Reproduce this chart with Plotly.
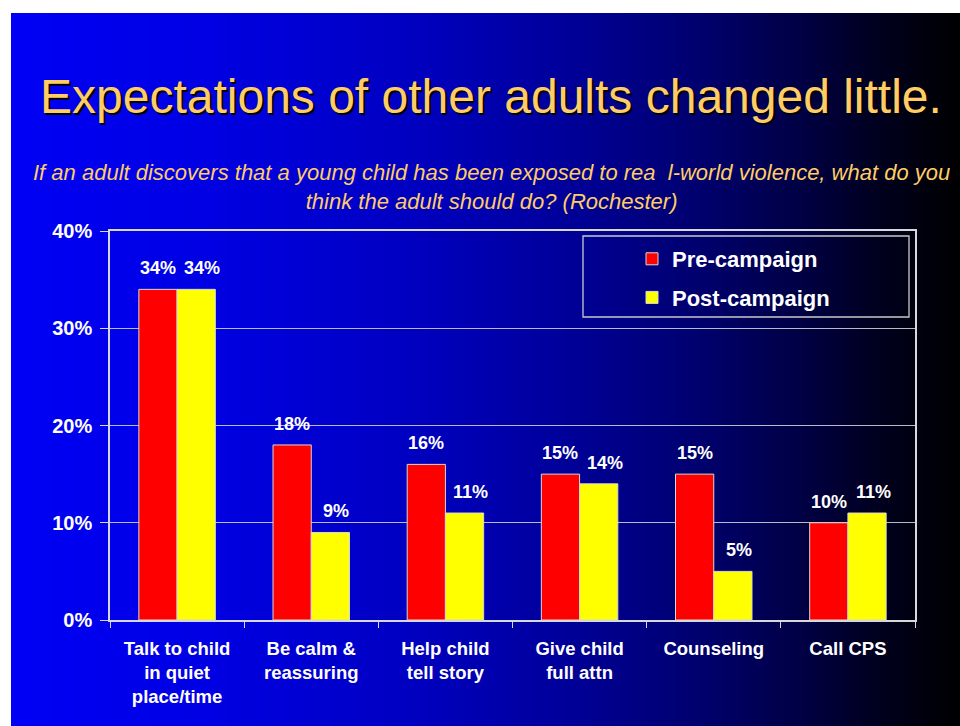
import base64
import struct
import zlib

import plotly.graph_objects as go

# ---------------- data ----------------
categories = [
    "Talk to child<br>in quiet<br>place/time",
    "Be calm &<br>reassuring",
    "Help child<br>tell story",
    "Give child<br>full attn",
    "Counseling",
    "Call CPS",
]
pre_campaign = [34, 18, 16, 15, 15, 10]
post_campaign = [34, 9, 11, 14, 5, 11]
series_names = ["Pre-campaign", "Post-campaign"]
y_ticks = [0, 10, 20, 30, 40]
y_tick_labels = ["0%", "10%", "20%", "30%", "40%"]

title_text = "Expectations of other adults changed little."
subtitle_text = ("If an adult discovers that a young child has been exposed to rea  l-world violence, what do you"
                 "<br>think the adult should do? (Rochester)")

# ---------------- geometry ----------------
W, H = 960, 726
L, R, T, B = 110, 45, 231, 106
PW, PH = W - L - R, H - T - B


def px(x):
    return (x - L) / PW


def py(y):
    return (H - B - y) / PH


# ---------------- gradient background image ----------------
def blue_at(x):
    stops = [(11, 245), (200, 228), (400, 195), (550, 158), (700, 110), (800, 68), (880, 30), (960, 0)]
    for (x0, v0), (x1, v1) in zip(stops, stops[1:]):
        if x0 <= x <= x1:
            return v0 + (v1 - v0) * (x - x0) / (x1 - x0)
    return stops[-1][1]


def make_png(width, height, pixel):
    raw = b""
    for yy in range(height):
        row = bytearray([0])
        for xx in range(width):
            row += bytes(pixel(xx, yy))
        raw += bytes(row)

    def chunk(tag, data):
        c = struct.pack(">I", len(data)) + tag + data
        return c + struct.pack(">I", zlib.crc32(tag + data) & 0xFFFFFFFF)

    ihdr = struct.pack(">IIBBBBB", width, height, 8, 2, 0, 0, 0)
    return (b"\x89PNG\r\n\x1a\n" + chunk(b"IHDR", ihdr)
            + chunk(b"IDAT", zlib.compress(raw, 9)) + chunk(b"IEND", b""))


gw = 949
png = make_png(gw, 2, lambda xx, yy: (0, 0, int(round(blue_at(11 + xx)))))
bg_src = "data:image/png;base64," + base64.b64encode(png).decode()

# ---------------- figure ----------------
RED = "#FF0000"
YELLOW = "#FFFF00"
OUTLINE = "#D8D8D8"
GOLD = "#FFCC66"
FONT = "Liberation Sans, Arial, sans-serif"

fig = go.Figure()
fig.add_trace(go.Bar(x=categories, y=pre_campaign, name=series_names[0], legendgroup="a",
                     marker=dict(color=RED, line=dict(color=OUTLINE, width=1))))
fig.add_trace(go.Bar(x=categories, y=post_campaign, name=series_names[1], legendgroup="b",
                     marker=dict(color=YELLOW, line=dict(color=OUTLINE, width=1))))

bargap = 0.43
half = (1 - bargap) / 4

label_font = dict(family=FONT, size=18, color="white", weight="bold")
annotations = []
for i, v in enumerate(pre_campaign):
    annotations.append(dict(x=i - half, y=v, xref="x", yref="y", text=f"{v}%", showarrow=False,
                            yshift=21, yanchor="middle", font=label_font))
for i, v in enumerate(post_campaign):
    annotations.append(dict(x=i + half, y=v, xref="x", yref="y", text=f"{v}%", showarrow=False,
                            yshift=21, xshift=6, yanchor="middle", font=label_font))

# title (with drop shadow) and subtitle
annotations.append(dict(x=px(491), y=py(97), xref="paper", yref="paper", text=title_text,
                        showarrow=False, xanchor="center", yanchor="middle",
                        font=dict(family=FONT, size=48, color=GOLD, shadow="2px 2px 0px #000000")))
annotations.append(dict(x=px(491), y=py(187), xref="paper", yref="paper", text=subtitle_text,
                        showarrow=False, xanchor="center", yanchor="middle",
                        font=dict(family=FONT, size=22, color=GOLD, style="italic")))

fig.update_layout(
    width=W, height=H,
    margin=dict(l=L, r=R, t=T, b=B, pad=0),
    paper_bgcolor="white",
    plot_bgcolor="rgba(0,0,0,0)",
    barmode="group", bargap=bargap, bargroupgap=0,
    showlegend=True,
    legend=dict(x=px(632), y=py(238), xanchor="left", yanchor="top",
                bgcolor="rgba(0,0,0,0)", borderwidth=0, tracegroupgap=7,
                font=dict(family=FONT, size=22, color="white", weight="bold")),
    annotations=annotations,
    images=[dict(source=bg_src, xref="paper", yref="paper", x=px(11), y=py(13),
                 sizex=gw / PW, sizey=(H - 13) / PH, xanchor="left", yanchor="top",
                 sizing="stretch", layer="below")],
    shapes=[dict(type="rect", xref="paper", yref="paper", x0=px(583), x1=px(909), y0=py(317), y1=py(236),
                 line=dict(color="#C8C8C8", width=1.3), fillcolor="rgba(0,0,0,0)")],
)

fig.update_xaxes(
    type="category", showgrid=False, showline=True, linecolor=OUTLINE, linewidth=1.5, mirror=True,
    ticks="outside", tickson="boundaries", ticklen=6, tickcolor=OUTLINE, ticklabelstandoff=11,
    tickfont=dict(family=FONT, size=18.5, color="white", weight="bold"),
)
fig.update_yaxes(
    range=[0, 40], tickvals=y_ticks, ticktext=y_tick_labels, showgrid=True,
    gridcolor="rgba(205,205,215,0.9)",
    gridwidth=1.3, showline=True, linecolor=OUTLINE, linewidth=1.5, mirror=True, zeroline=False,
    ticks="outside", ticklen=8, tickcolor=OUTLINE, ticklabelstandoff=4,
    tickfont=dict(family=FONT, size=20, color="white", weight="bold"),
)

fig.write_html("out.html")
